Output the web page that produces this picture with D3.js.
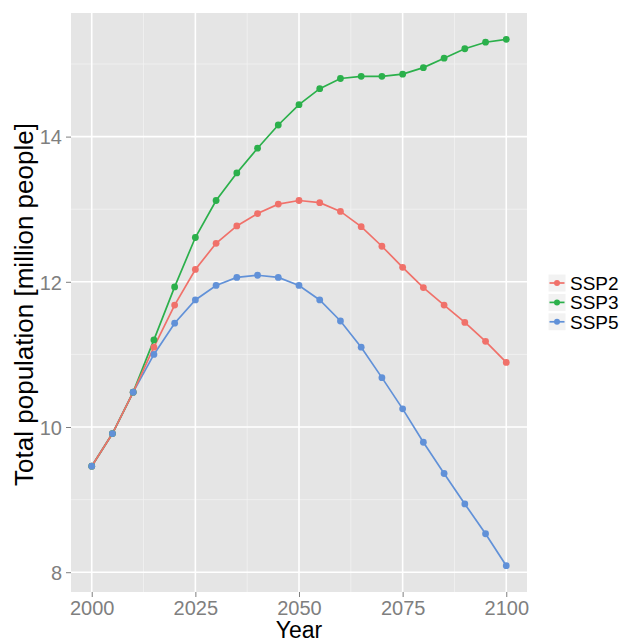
<!DOCTYPE html>
<html>
<head>
<meta charset="utf-8">
<script src="https://cdn.jsdelivr.net/npm/d3@7/dist/d3.min.js"></script>
<style>
  body { margin: 0; background: #fff; }
  svg { display: block; font-family: "Liberation Sans", Arial, Helvetica, sans-serif; }
  .axis path { display: none; }
  .axis line { stroke: #7f7f7f; }
  .axis text { fill: #7f7f7f; font-size: 20px; }
</style>
</head>
<body>
<svg id="chart" width="626" height="643"></svg>
<script>
const years = [2000, 2005, 2010, 2015, 2020, 2025, 2030, 2035, 2040, 2045, 2050,
  2055, 2060, 2065, 2070, 2075, 2080, 2085, 2090, 2095, 2100];
const ssp2 = [9.46, 9.91, 10.48, 11.10, 11.68, 12.17, 12.53, 12.77, 12.94, 13.07, 13.12,
  13.09, 12.97, 12.76, 12.49, 12.20, 11.92, 11.68, 11.44, 11.18, 10.89];
const ssp3 = [9.46, 9.91, 10.48, 11.20, 11.93, 12.61, 13.12, 13.50, 13.84, 14.16, 14.44,
  14.66, 14.80, 14.83, 14.83, 14.86, 14.95, 15.08, 15.21, 15.30, 15.34];
const ssp5 = [9.46, 9.91, 10.48, 11.00, 11.43, 11.75, 11.95, 12.06, 12.09, 12.06, 11.95,
  11.75, 11.46, 11.10, 10.68, 10.25, 9.79, 9.36, 8.94, 8.53, 8.09];
const seriesNames = ["SSP2", "SSP3", "SSP5"];
const seriesColors = ["#f0716a", "#2bb04b", "#6191d8"];
const xTicks = [2000, 2025, 2050, 2075, 2100];
const xMinor = [2012.5, 2037.5, 2062.5, 2087.5];
const yTicks = [8, 10, 12, 14];
const yMinor = [9, 11, 13, 15];

const series = seriesNames.map((name, i) => ({
  name,
  color: seriesColors[i],
  values: years.map((yr, j) => ({ year: yr, value: [ssp2, ssp3, ssp5][i][j] }))
}));

const svg = d3.select("#chart");
const panel = { left: 71, right: 527, top: 13, bottom: 592 };

// ggplot-style 5% expansion
const xExt = d3.extent(years);
const yExt = d3.extent(series.flatMap(s => s.values), d => d.value);
const xPad = (xExt[1] - xExt[0]) * 0.05;
const yPad = (yExt[1] - yExt[0]) * 0.05;
const x = d3.scaleLinear().domain([xExt[0] - xPad, xExt[1] + xPad]).range([panel.left, panel.right]);
const y = d3.scaleLinear().domain([yExt[0] - yPad, yExt[1] + yPad]).range([panel.bottom, panel.top]);

svg.append("rect")
  .attr("x", panel.left).attr("y", panel.top)
  .attr("width", panel.right - panel.left).attr("height", panel.bottom - panel.top)
  .attr("fill", "#e5e5e5");

const grid = svg.append("g");
grid.selectAll(".vminor").data(xMinor).join("line")
  .attr("x1", d => x(d)).attr("x2", d => x(d))
  .attr("y1", panel.top).attr("y2", panel.bottom)
  .attr("stroke", "#f2f2f2").attr("stroke-width", 0.8);
grid.selectAll(".hminor").data(yMinor).join("line")
  .attr("y1", d => y(d)).attr("y2", d => y(d))
  .attr("x1", panel.left).attr("x2", panel.right)
  .attr("stroke", "#f2f2f2").attr("stroke-width", 0.8);
grid.selectAll(".vmajor").data(xTicks).join("line")
  .attr("x1", d => x(d)).attr("x2", d => x(d))
  .attr("y1", panel.top).attr("y2", panel.bottom)
  .attr("stroke", "#fff").attr("stroke-width", 1.6);
grid.selectAll(".hmajor").data(yTicks).join("line")
  .attr("y1", d => y(d)).attr("y2", d => y(d))
  .attr("x1", panel.left).attr("x2", panel.right)
  .attr("stroke", "#fff").attr("stroke-width", 1.6);

svg.append("g").attr("class", "axis")
  .attr("transform", `translate(0,${panel.bottom})`)
  .call(d3.axisBottom(x).tickValues(xTicks).tickSize(5).tickPadding(4).tickFormat(d3.format("d")))
  .selectAll("text").attr("dy", "0.68em");

svg.append("g").attr("class", "axis")
  .attr("transform", `translate(${panel.left},0)`)
  .call(d3.axisLeft(y).tickValues(yTicks).tickSize(5).tickPadding(4).tickFormat(d3.format("d")))
  .selectAll("text").attr("dy", "0.36em");

svg.append("text")
  .attr("x", (panel.left + panel.right) / 2).attr("y", 637.5)
  .attr("text-anchor", "middle")
  .attr("font-size", 23).attr("fill", "#000")
  .text("Year");

svg.append("text")
  .attr("transform", `translate(33,${(panel.top + panel.bottom) / 2 + 2}) rotate(-90)`)
  .attr("text-anchor", "middle")
  .attr("font-size", 26).attr("fill", "#000")
  .text("Total population [million people]");

const line = d3.line().x(d => x(d.year)).y(d => y(d.value));

// red line ends up on top in the original
svg.append("g").selectAll("path").data(series.slice().reverse()).join("path")
  .attr("d", d => line(d.values))
  .attr("fill", "none")
  .attr("stroke", d => d.color)
  .attr("stroke-width", 1.7);

svg.append("g").selectAll("g").data(series).join("g")
  .attr("fill", d => d.color)
  .selectAll("circle").data(d => d.values).join("circle")
  .attr("cx", d => x(d.year))
  .attr("cy", d => y(d.value))
  .attr("r", 3.4);

const legend = svg.append("g");
const rows = legend.selectAll("g").data(series).join("g")
  .attr("transform", (d, i) => `translate(548,${274 + i * 19.4})`);
rows.append("rect")
  .attr("width", 18).attr("height", 18)
  .attr("fill", "#f2f2f2").attr("stroke", "#fff").attr("stroke-width", 1);
rows.append("line")
  .attr("x1", 1.5).attr("x2", 16.5).attr("y1", 9).attr("y2", 9)
  .attr("stroke", d => d.color).attr("stroke-width", 1.7);
rows.append("circle")
  .attr("cx", 9).attr("cy", 9).attr("r", 3)
  .attr("fill", d => d.color);
rows.append("text")
  .attr("x", 22).attr("y", 9).attr("dy", "0.36em")
  .attr("font-size", 19).attr("fill", "#000")
  .text(d => d.name);
</script>
</body>
</html>
